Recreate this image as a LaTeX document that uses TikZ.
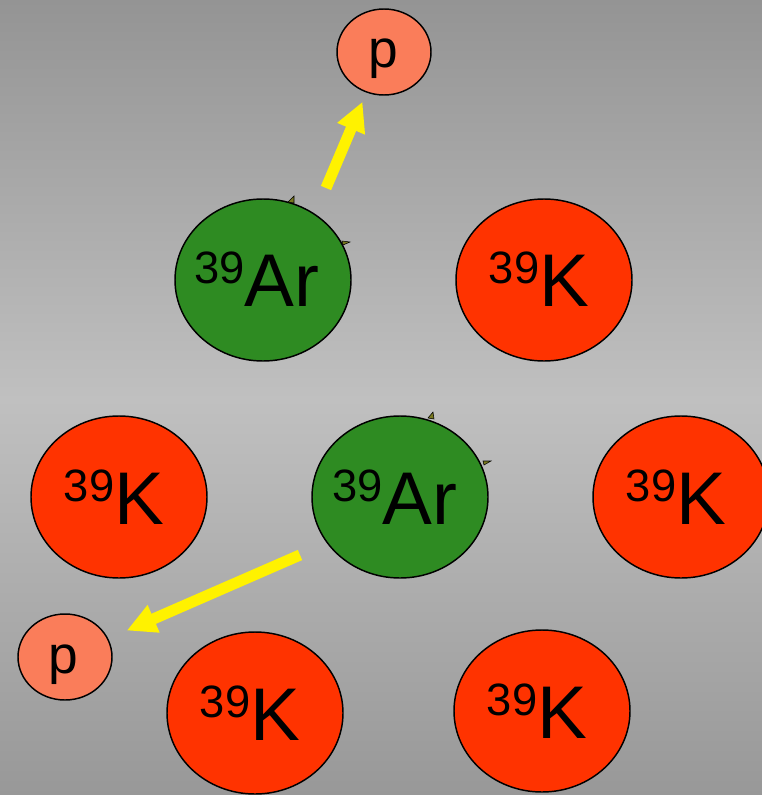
\documentclass[tikz,border=0pt]{standalone}
\usepackage{fontspec}
\setmainfont{Liberation Sans}
\usetikzlibrary{shapes.geometric,arrows.meta}

\definecolor{argreen}{RGB}{46,139,34}
\definecolor{kred}{RGB}{255,51,0}
\definecolor{psalmon}{RGB}{250,125,90}
\definecolor{bgtop}{RGB}{148,148,148}
\definecolor{bgmid}{RGB}{192,192,192}
\definecolor{bgbot}{RGB}{152,152,152}
\definecolor{spike}{RGB}{120,120,30}

\tikzset{
  atom/.style={ellipse, draw=black, line width=1.1pt, inner sep=0pt,
               minimum width=132pt, minimum height=121.5pt},
  argon/.style={atom, fill=argreen},
  potassium/.style={atom, fill=kred},
  proton/.style={ellipse, draw=black, line width=1.1pt, inner sep=0pt,
                 fill=psalmon, minimum width=70.5pt, minimum height=64.5pt},
  iso/.style={anchor=base, inner sep=0pt, font=\fontsize{56}{56}\selectfont},
  ptext/.style={anchor=base, inner sep=0pt, font=\fontsize{40}{40}\selectfont},
  emit/.style={draw=yellow, line width=8.3pt,
               -{Triangle[width=21pt, length=22pt]}, shorten >=-1pt},
  burr/.style={fill=spike, draw=black, line width=0.4pt}
}
\newcommand{\mass}{\raisebox{17pt}{\fontsize{34}{34}\selectfont 39}}

\begin{document}
\begin{tikzpicture}[x=0.75pt, y=-0.75pt]
  \clip (0,0) rectangle (762,795);
  % background: darker at top and bottom, lighter through the middle
  \shade[top color=bgtop, bottom color=bgmid] (0,0) rectangle (762,400);
  \shade[top color=bgmid, bottom color=bgbot] (0,399) rectangle (762,795);

  % atoms
  \node[proton]    (p1) at (384,52)  {};
  \node[argon]     (ar1) at (263,280) {};
  \node[potassium] (k1) at (544,280) {};
  \node[potassium] (k2) at (119,497) {};
  \node[argon]     (ar2) at (400,497) {};
  \node[potassium] (k3) at (681,497) {};
  \node[proton]    (p2) at (65,657)  {};
  \node[potassium] (k4) at (255,713) {};
  \node[potassium] (k5) at (542,711) {};

  % small burrs on the argon outlines
  \fill[burr] (288,202) -- (294,196) -- (294,203) -- cycle;
  \fill[burr] (342,241) -- (350,242) -- (343,245) -- cycle;
  \fill[burr] (428,418) -- (433,412) -- (434,419) -- cycle;
  \fill[burr] (483,461) -- (491,461) -- (484,465) -- cycle;

  % labels
  \node[iso] (t1) at (257,306) {\mass Ar};
  \node[iso] (t2) at (539,306) {\mass K};
  \node[iso] (t3) at (114,524) {\mass K};
  \node[iso] (t4) at (395,524) {\mass Ar};
  \node[iso] (t5) at (676,524) {\mass K};
  \node[iso] (t6) at (250,740) {\mass K};
  \node[iso] (t7) at (537,738) {\mass K};
  \node[ptext] (tp1) at (383,68)  {p};
  \node[ptext] (tp2) at (63,673)  {p};

  % emitted protons
  \coordinate (a1s) at (326,188);
  \coordinate (a1e) at (362,103);
  \coordinate (a2s) at (300,555);
  \coordinate (a2e) at (128,630);
  \draw[emit] (a1s) -- (a1e);
  \draw[emit] (a2s) -- (a2e);
\end{tikzpicture}
\end{document}
